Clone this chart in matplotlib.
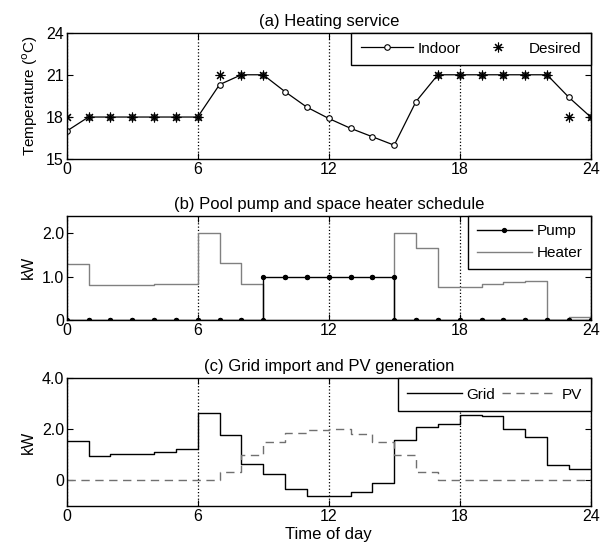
import numpy as np
import matplotlib
matplotlib.use('Agg')
import matplotlib.pyplot as plt

plt.rcParams['font.family'] = ['Liberation Sans', 'DejaVu Sans']
plt.rcParams['font.size'] = 11

hours = np.arange(25)

# (a) heating service
indoor = [17.0, 18, 18, 18, 18, 18, 18, 20.3, 21, 21, 19.8, 18.7, 17.9, 17.2,
          16.6, 16.0, 19.1, 21, 21, 21, 21, 21, 21, 19.4, 18.0]
nan = np.nan
desired = [18, 18, 18, 18, 18, 18, 18, 21, 21, 21, nan, nan, nan, nan, nan,
           nan, nan, 21, 21, 21, 21, 21, 21, 18, 18]

# (b) schedules, hourly values (last one closes the stairs)
pump = [0, 0, 0, 0, 0, 0, 0, 0, 0, 1, 1, 1, 1, 1, 1, 0, 0, 0, 0, 0, 0, 0, 0, 0, 0]
heater = [1.28, 0.80, 0.80, 0.80, 0.83, 0.83, 2.0, 1.30, 0.83, 0, 0, 0, 0, 0, 0,
          2.0, 1.65, 0.75, 0.77, 0.82, 0.87, 0.90, 0, 0.08, 1.0]

# (c) grid import and PV
grid = [1.56, 0.95, 1.02, 1.02, 1.10, 1.22, 2.63, 1.80, 0.63, 0.24, -0.35, -0.59,
        -0.59, -0.46, -0.10, 1.60, 2.09, 2.22, 2.58, 2.52, 2.0, 1.70, 0.59, 0.46, 0.46]
pv = [0, 0, 0, 0, 0, 0, 0, 0.35, 0.98, 1.50, 1.86, 1.99, 2.0, 1.83, 1.50, 0.98,
      0.35, 0, 0, 0, 0, 0, 0, 0, 0]

xticks = [0, 6, 12, 18, 24]

fig = plt.figure(figsize=(6.13, 5.55), dpi=100)
left, width = 0.1088, 0.8548
ax1 = fig.add_axes([left, 0.713, width, 0.2284])
ax2 = fig.add_axes([left, 0.4234, width, 0.188])
ax3 = fig.add_axes([left, 0.0883, width, 0.230])


def style(ax):
    ax.set_xlim(0, 24)
    ax.set_xticks(xticks)
    ax.tick_params(direction='in', top=True, right=True, length=4, width=0.8,
                   labelsize=11.5, pad=2)
    ax.grid(True, axis='x', linestyle=':', color='k', linewidth=0.9)
    for s in ax.spines.values():
        s.set_linewidth(1.0)


def legend(ax, **kw):
    lg = ax.legend(loc='upper right', borderaxespad=0, fancybox=False,
                   framealpha=1, edgecolor='k', fontsize=11, **kw)
    lg.get_frame().set_linewidth(1.0)
    return lg


# (a)
style(ax1)
ax1.plot(hours, indoor, '-o', color='k', linewidth=0.9, markersize=4,
         markerfacecolor='white', markeredgewidth=0.8, label='Indoor')
ax1.plot(hours, desired, linestyle='none', marker=(8, 2, 0), color='k',
         markersize=7, markeredgewidth=0.8, label='Desired')
ax1.set_ylim(15, 24)
ax1.set_yticks([15, 18, 21, 24])
ax1.set_ylabel(r'Temperature ($^{\rm o}$C)', fontsize=11)
ax1.set_title('(a) Heating service', fontsize=12, pad=5)
legend(ax1, ncol=2, handlelength=3.4, columnspacing=0.8, handletextpad=0.3,
       borderpad=0.6)

# (b) stairs with markers on every corner
xs = np.repeat(hours, 2)[1:]
ys = np.repeat(pump, 2)[:-1]
style(ax2)
ax2.step(hours, heater, where='post', color='#808080', linewidth=1.0, label='Heater')
ax2.plot(xs, ys, '-o', color='k', linewidth=1.0, markersize=2.8, label='Pump')
ax2.set_ylim(0, 2.4)
ax2.set_yticks([0, 1, 2])
ax2.set_yticklabels(['0', '1.0', '2.0'])
ax2.set_ylabel('kW', fontsize=11.5)
ax2.set_title('(b) Pool pump and space heater schedule', fontsize=12, pad=5)
h, l = ax2.get_legend_handles_labels()
legend(ax2, handles=h[::-1], labels=l[::-1], handlelength=3.6,
       handletextpad=0.3, labelspacing=0.55, borderpad=0.55)

# (c)
style(ax3)
ax3.step(hours, grid, where='post', color='k', linewidth=1.0, label='Grid')
ax3.step(hours, pv, where='post', color='#707070', linewidth=1.0,
         linestyle=(0, (6, 4)), label='PV')
ax3.set_ylim(-1, 4)
ax3.set_yticks([0, 2, 4])
ax3.set_yticklabels(['0', '2.0', '4.0'])
ax3.set_ylabel('kW', fontsize=11.5)
ax3.set_xlabel('Time of day', fontsize=12, labelpad=2)
ax3.set_title('(c) Grid import and PV generation', fontsize=12, pad=5)
legend(ax3, ncol=2, handlelength=3.6, columnspacing=0.5, handletextpad=0.25,
       borderpad=0.6)

fig.savefig('out.png', dpi=100)
